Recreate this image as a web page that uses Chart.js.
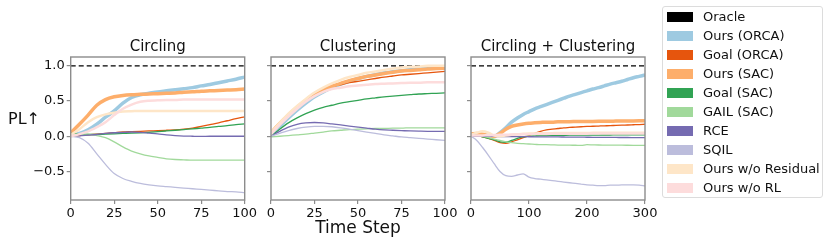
<!DOCTYPE html>
<html>
<head>
<meta charset="utf-8">
<script src="https://cdn.jsdelivr.net/npm/chart.js@4.4.0/dist/chart.umd.min.js"></script>
<style>
  body { margin: 0; background: #fff; width: 830px; height: 245px; overflow: hidden; position: relative; font-family: 'DejaVu Sans', sans-serif; }
  canvas { position: absolute; left: 0; top: 0; }
  #ylab { position: absolute; left: 8px; top: 109px; font-size: 16px; color: #111; white-space: nowrap; }
  #legend { position: absolute; left: 662px; top: 6px; width: 159px; height: 190px; border: 1px solid #dcdcdc; border-radius: 3px; background: #fff; }
  .row { position: absolute; left: 0; height: 19px; line-height: 19px; font-size: 13px; color: #111; white-space: nowrap; }
  .sw { position: absolute; left: 4px; top: 4.5px; width: 26px; height: 10px; }
  .lb { position: absolute; left: 40px; top: 0; }
</style>
</head>
<body>
<canvas id="c1" width="830" height="245"></canvas>
<canvas id="c2" width="830" height="245"></canvas>
<canvas id="c3" width="830" height="245"></canvas>
<div id="ylab">PL↑</div>
<div id="legend"></div>
<script>
// series names / colours (legend order)
var names = ['Oracle', 'Ours (ORCA)', 'Goal (ORCA)', 'Ours (SAC)', 'Goal (SAC)', 'GAIL (SAC)', 'RCE', 'SQIL', 'Ours w/o Residual', 'Ours w/o RL'];
var colors = ['#000000', '#9ecae1', '#e6550d', '#fdae6b', '#31a354', '#a1d99b', '#756bb1', '#bcbddc', '#fee6c8', '#fddcdc'];
var widths = [1.3, 3.5, 1.3, 3.5, 1.3, 1.3, 1.3, 1.3, 2.5, 2.5];

var yTicks = [-0.5, 0, 0.5, 1.0];

// Circling (x = 0..100, step 5)
var circSteps = [0,5,10,15,20,25,30,35,40,45,50,55,60,65,70,75,80,85,90,95,100];
var circOursOrca = [0.02,0.04,0.09,0.17,0.27,0.36,0.47,0.55,0.59,0.61,0.63,0.645,0.66,0.675,0.69,0.715,0.735,0.76,0.785,0.81,0.84];
var circGoalOrca = [0,0.01,0.02,0.03,0.04,0.05,0.06,0.065,0.07,0.075,0.08,0.085,0.09,0.1,0.115,0.14,0.165,0.19,0.22,0.25,0.275];
var circOursSac = [0.05,0.17,0.3,0.44,0.52,0.56,0.58,0.59,0.595,0.6,0.605,0.61,0.615,0.625,0.63,0.64,0.645,0.65,0.655,0.66,0.67];
var circGoalSac = [0.04,0.03,0.025,0.025,0.03,0.035,0.04,0.045,0.05,0.055,0.065,0.075,0.085,0.095,0.105,0.115,0.125,0.14,0.15,0.165,0.175];
var circGail = [0.02,0.03,0.03,0.01,-0.02,-0.08,-0.15,-0.21,-0.25,-0.28,-0.3,-0.32,-0.33,-0.335,-0.34,-0.34,-0.34,-0.34,-0.34,-0.34,-0.34];
var circRce = [0,0.005,0.015,0.025,0.04,0.05,0.055,0.06,0.055,0.045,0.035,0.02,0.01,0.003,0,-0.002,0,0,0,0,0];
var circSqil = [0,-0.02,-0.1,-0.25,-0.4,-0.53,-0.6,-0.64,-0.67,-0.69,-0.705,-0.715,-0.725,-0.735,-0.745,-0.755,-0.765,-0.775,-0.785,-0.79,-0.8];
var circNoRes = [0.02,0.1,0.2,0.27,0.31,0.335,0.35,0.355,0.36,0.36,0.36,0.36,0.36,0.36,0.36,0.36,0.36,0.36,0.36,0.36,0.36];
var circNoRl = [0,0.03,0.07,0.13,0.2,0.3,0.39,0.45,0.49,0.505,0.51,0.515,0.515,0.52,0.52,0.52,0.52,0.52,0.52,0.52,0.52];

// Clustering (x = 0..100, step 5)
var clusSteps = circSteps;
var clusOursOrca = [0.02,0.14,0.26,0.37,0.47,0.56,0.63,0.69,0.74,0.78,0.82,0.85,0.875,0.9,0.915,0.93,0.945,0.955,0.965,0.97,0.975];
var clusGoalOrca = [0.03,0.17,0.29,0.4,0.5,0.59,0.65,0.7,0.73,0.76,0.78,0.8,0.82,0.84,0.855,0.87,0.88,0.89,0.9,0.91,0.92];
var clusOursSac = [0.05,0.18,0.3,0.41,0.51,0.6,0.66,0.71,0.75,0.79,0.82,0.85,0.87,0.89,0.91,0.925,0.935,0.945,0.955,0.96,0.965];
var clusGoalSac = [0,0.1,0.19,0.26,0.32,0.37,0.41,0.44,0.47,0.49,0.51,0.53,0.545,0.56,0.57,0.58,0.59,0.6,0.605,0.61,0.615];
var clusGail = [-0.01,0,0.01,0.02,0.03,0.045,0.06,0.075,0.085,0.095,0.1,0.105,0.11,0.11,0.115,0.115,0.12,0.12,0.12,0.12,0.12];
var clusRce = [0,0.07,0.13,0.17,0.19,0.195,0.19,0.175,0.16,0.145,0.13,0.115,0.1,0.09,0.085,0.08,0.075,0.072,0.07,0.07,0.07];
var clusSqil = [0,0.04,0.08,0.11,0.13,0.14,0.14,0.135,0.12,0.1,0.08,0.06,0.04,0.02,0.005,-0.01,-0.02,-0.03,-0.04,-0.05,-0.06];
var clusNoRes = [0.05,0.19,0.32,0.43,0.53,0.62,0.69,0.75,0.8,0.84,0.87,0.9,0.92,0.94,0.96,0.975,0.985,0.99,1.0,1.0,1.0];
var clusNoRl = [0.03,0.16,0.28,0.39,0.49,0.57,0.63,0.67,0.69,0.71,0.72,0.73,0.74,0.745,0.75,0.755,0.76,0.76,0.765,0.765,0.765];

// Circling + Clustering (x = 0..300, step 10)
var bothSteps = [0,10,20,30,40,50,60,70,80,90,100,110,120,130,140,150,160,170,180,190,200,210,220,230,240,250,260,270,280,290,300];
var bothOursOrca = [0.02,0.03,0.02,0.01,0,0.05,0.12,0.2,0.26,0.31,0.35,0.39,0.42,0.45,0.48,0.51,0.54,0.57,0.595,0.62,0.645,0.67,0.69,0.715,0.74,0.76,0.78,0.805,0.83,0.85,0.87];
var bothGoalOrca = [0.02,0.01,-0.01,-0.03,-0.06,-0.09,-0.1,-0.08,-0.05,-0.02,0.01,0.04,0.07,0.09,0.1,0.11,0.12,0.125,0.13,0.135,0.14,0.142,0.145,0.148,0.15,0.155,0.158,0.16,0.163,0.166,0.17];
var bothOursSac = [0.03,0.04,0.03,0.01,0,0.04,0.1,0.14,0.16,0.175,0.185,0.19,0.195,0.2,0.2,0.205,0.205,0.207,0.208,0.209,0.21,0.211,0.212,0.213,0.214,0.215,0.216,0.217,0.218,0.219,0.22];
var bothGoalSac = [0.02,0.01,-0.01,-0.03,-0.05,-0.08,-0.085,-0.06,-0.03,-0.01,0,0.005,0.01,0.01,0.012,0.013,0.014,0.015,0.015,0.016,0.016,0.017,0.017,0.018,0.018,0.019,0.019,0.02,0.02,0.02,0.02];
var bothGail = [0.02,0.01,0,-0.02,-0.04,-0.06,-0.08,-0.09,-0.1,-0.105,-0.11,-0.115,-0.12,-0.12,-0.122,-0.125,-0.125,-0.127,-0.128,-0.13,-0.12,-0.122,-0.124,-0.125,-0.126,-0.125,-0.127,-0.128,-0.129,-0.13,-0.13];
var bothRce = [0,0,0,-0.002,-0.003,-0.004,-0.005,-0.005,-0.006,-0.006,-0.007,-0.008,-0.008,-0.009,-0.01,-0.01,-0.011,-0.012,-0.012,-0.013,-0.014,-0.015,-0.015,-0.016,-0.017,-0.017,-0.018,-0.018,-0.019,-0.02,-0.02];
var bothSqil = [0,-0.06,-0.16,-0.27,-0.39,-0.5,-0.56,-0.57,-0.55,-0.535,-0.58,-0.6,-0.61,-0.62,-0.63,-0.64,-0.65,-0.66,-0.67,-0.68,-0.69,-0.695,-0.7,-0.7,-0.695,-0.695,-0.69,-0.69,-0.69,-0.695,-0.705];
var bothNoRes = [0.02,0.05,0.07,0.05,0.01,0,0.01,0.02,0.03,0.035,0.04,0.04,0.042,0.043,0.044,0.045,0.045,0.046,0.046,0.047,0.047,0.048,0.048,0.048,0.049,0.049,0.05,0.05,0.05,0.05,0.05];
var bothNoRl = [0.01,0.01,0.012,0.014,0.016,0.02,0.022,0.024,0.026,0.028,0.03,0.031,0.032,0.033,0.034,0.035,0.035,0.036,0.036,0.037,0.037,0.038,0.038,0.038,0.039,0.039,0.04,0.04,0.04,0.04,0.04];

Chart.defaults.font.family = "'DejaVu Sans', sans-serif";
Chart.defaults.color = '#111';

// box around the plot area (matplotlib-style spines)
var spines = {
  id: 'spines',
  afterDatasetsDraw: function(chart) {
    var a = chart.chartArea, ctx = chart.ctx;
    ctx.save();
    ctx.strokeStyle = '#8c8c8c';
    ctx.lineWidth = 1.4;
    ctx.strokeRect(a.left, a.top, a.right - a.left, a.bottom - a.top);
    ctx.restore();
  }
};

function pts(xs, ys) {
  return xs.map(function(x, i) { return { x: x, y: ys[i] }; });
}

function makePanel(id, title, left, xmax, xTicks, xs, series, showY, xTitle) {
  var sets = [{
    data: [{ x: 0, y: 1 }, { x: xmax, y: 1 }],
    borderColor: colors[0], borderWidth: widths[0], borderDash: [5, 3], order: 20
  }];
  series.forEach(function(ys, i) {
    sets.push({
      data: pts(xs, ys),
      borderColor: colors[i + 1],
      borderWidth: widths[i + 1],
      cubicInterpolationMode: 'monotone',
      order: 19 - i
    });
  });
  var right = left + 174;
  new Chart(document.getElementById(id), {
    type: 'line',
    data: { datasets: sets },
    plugins: [spines],
    options: {
      responsive: false,
      animation: false,
      elements: { point: { radius: 0 } },
      layout: { padding: { left: left - 40, right: 830 - right, top: 38, bottom: xTitle ? 0 : 20 } },
      plugins: {
        legend: { display: false },
        tooltip: { enabled: false },
        title: { display: true, text: title, fullSize: false, font: { size: 15, weight: 'normal' }, color: '#111', padding: { top: 0, bottom: 1 } }
      },
      scales: {
        x: {
          type: 'linear', min: 0, max: xmax,
          afterBuildTicks: function(s) { s.ticks = xTicks.map(function(v) { return { value: v }; }); },
          afterFit: function(s) { s.height = xTitle ? 45 : 25; },
          ticks: { font: { size: 13 }, color: '#111', padding: 1.5, maxRotation: 0 },
          grid: { drawOnChartArea: false, tickLength: 4, color: '#8c8c8c', lineWidth: 1.2 },
          border: { display: false },
          title: { display: !!xTitle, text: xTitle, font: { size: 17 }, color: '#111', padding: { top: 0, bottom: 6 } }
        },
        y: {
          type: 'linear', min: -0.905, max: 1.125,
          afterBuildTicks: function(s) { s.ticks = yTicks.map(function(v) { return { value: v }; }); },
          afterFit: function(s) { s.width = 40; },
          ticks: {
            display: showY, font: { size: 13 }, color: '#111', padding: 2,
            callback: function(v) { return (v < 0 ? '\u2212' : '') + Math.abs(v).toFixed(1); }
          },
          grid: { drawOnChartArea: false, tickLength: 4, color: '#8c8c8c', lineWidth: 1.2 },
          border: { display: false }
        }
      }
    }
  });
}

makePanel('c1', 'Circling', 70.7, 100, [0, 25, 50, 75, 100], circSteps,
  [circOursOrca, circGoalOrca, circOursSac, circGoalSac, circGail, circRce, circSqil, circNoRes, circNoRl], true, '');
makePanel('c2', 'Clustering', 271, 100, [0, 25, 50, 75, 100], clusSteps,
  [clusOursOrca, clusGoalOrca, clusOursSac, clusGoalSac, clusGail, clusRce, clusSqil, clusNoRes, clusNoRl], false, 'Time Step');
makePanel('c3', 'Circling + Clustering', 471, 300, [0, 100, 200, 300], bothSteps,
  [bothOursOrca, bothGoalOrca, bothOursSac, bothGoalSac, bothGail, bothRce, bothSqil, bothNoRes, bothNoRl], false, '');

// legend
var lg = document.getElementById('legend');
names.forEach(function(n, i) {
  var row = document.createElement('div');
  row.className = 'row';
  row.style.top = (19 * i) + 'px';
  row.innerHTML = '<span class="sw" style="background:' + colors[i] + '"></span><span class="lb">' + n + '</span>';
  lg.appendChild(row);
});
</script>
</body>
</html>
